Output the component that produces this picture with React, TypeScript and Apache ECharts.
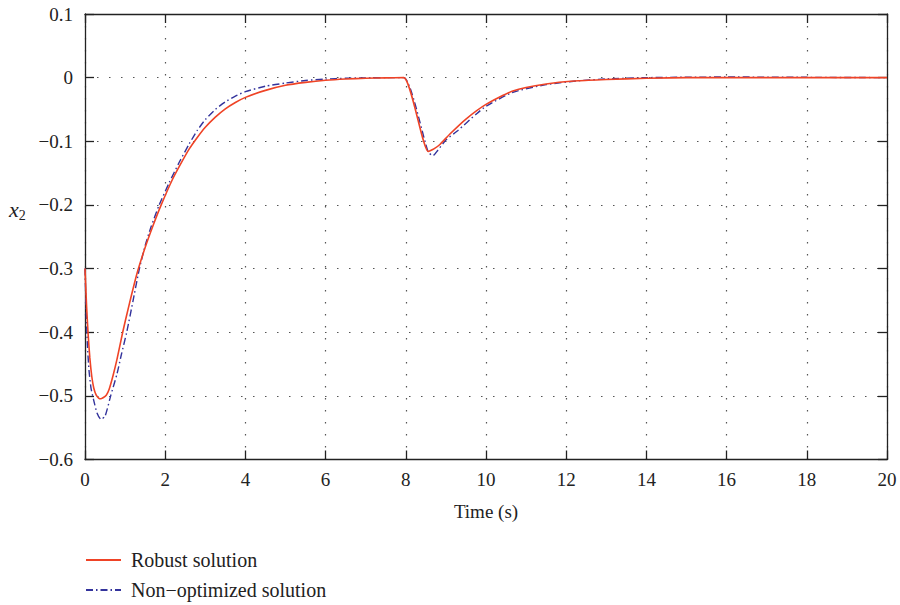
import React, { useEffect, useRef } from "react";
import * as echarts from "echarts";

const robustT = [0, 0.04, 0.08, 0.12, 0.17, 0.22, 0.28, 0.34, 0.39, 0.45, 0.53, 0.6, 0.7, 0.8, 0.94, 1.1, 1.3, 1.5, 1.7, 1.9, 2.18, 2.4, 2.6, 2.8, 3.0, 3.25, 3.5, 3.75, 4.0, 4.5, 5.0, 5.5, 6.0, 6.5, 7.0, 7.5, 7.95, 8.56, 8.62, 8.7, 8.85, 9.1, 9.5, 10.0, 10.67, 11.5, 12.3, 13.0, 14.0, 15.0, 17.0, 20.0];
const robustV = [-0.3, -0.36, -0.405, -0.44, -0.47, -0.488, -0.499, -0.5035, -0.5046, -0.503, -0.499, -0.49, -0.468, -0.442, -0.4, -0.357, -0.307, -0.267, -0.232, -0.2, -0.16, -0.134, -0.112, -0.094, -0.078, -0.062, -0.049, -0.039, -0.031, -0.02, -0.012, -0.0075, -0.0042, -0.0022, -0.001, -0.0003, 0, -0.116, -0.1145, -0.112, -0.105, -0.0885, -0.065, -0.042, -0.021, -0.01, -0.005, -0.003, -0.001, 0, 0, 0];

const nonOptT = [0, 0.03, 0.06, 0.1, 0.15, 0.21, 0.3, 0.4, 0.5, 0.64, 0.8, 0.9, 1.04, 1.2, 1.35, 1.5, 1.65, 1.85, 2.1, 2.35, 2.6, 2.8, 3.0, 3.25, 3.5, 3.75, 4.0, 4.5, 5.0, 5.5, 6.0, 6.5, 7.0, 7.5, 7.95, 8.56, 8.68, 8.8, 9.0, 9.3, 9.76, 10.0, 10.67, 11.5, 12.3, 13.0, 14.0, 16.0, 18.0, 20.0];
const nonOptV = [-0.3, -0.37, -0.42, -0.46, -0.488, -0.505, -0.527, -0.537, -0.532, -0.5, -0.465, -0.437, -0.4, -0.35, -0.302, -0.264, -0.234, -0.2, -0.165, -0.133, -0.104, -0.083, -0.066, -0.05, -0.038, -0.029, -0.022, -0.0135, -0.0085, -0.0045, -0.0022, -0.001, -0.0004, 0, 0, -0.117, -0.1225, -0.114, -0.098, -0.083, -0.057, -0.045, -0.023, -0.011, -0.005, -0.002, 0, 0.001, 0.0005, 0];

const seriesNames = ["Robust solution", "Non\u2212optimized solution"];
const xTicks = { min: 0, max: 20, interval: 2 };
const yTicks = { min: -0.6, max: 0.1, interval: 0.1 };

const FONT = "'Liberation Serif', 'DejaVu Serif', serif";
const AXIS = "#222";
const FS = 19;

export default function App() {
  const ref = useRef<HTMLDivElement>(null);
  useEffect(() => {
    if (!ref.current) return;
    const chart = echarts.init(ref.current, null, { renderer: "svg" });
    const pair = (t: number[], v: number[]) => t.map((x, i) => [x, v[i]]);
    const fmtY = (v: number) => {
      const r = Math.round(v * 10) / 10;
      if (r === 0) return "0";
      return (r < 0 ? "\u2212" : "") + Math.abs(r).toFixed(1);
    };
    const gridLine = { show: true, lineStyle: { color: "#555", type: [1.5, 10.5] as any, width: 1.2 } };
    const baseX = {
      type: "value" as const,
      ...xTicks,
      axisLine: { show: true, onZero: false, lineStyle: { color: AXIS, width: 1.3 } },
      axisTick: { show: true, inside: true, length: 9, lineStyle: { color: AXIS, width: 1.3 } },
    };
    const baseY = {
      type: "value" as const,
      ...yTicks,
      axisLine: { show: true, onZero: false, lineStyle: { color: AXIS, width: 1.3 } },
      axisTick: { show: true, inside: true, length: 9, lineStyle: { color: AXIS, width: 1.3 } },
    };
    chart.setOption({
      animation: false,
      backgroundColor: "#fff",
      textStyle: { fontFamily: FONT },
      grid: { left: 85, right: 13, top: 14, bottom: 145.5, containLabel: false },
      legend: {
        orient: "vertical",
        left: 85,
        top: 550,
        height: 60,
        padding: 0,
        align: "left",
        itemWidth: 35,
        itemHeight: 14,
        itemGap: 10,
        itemStyle: { opacity: 0 },
        textStyle: { fontFamily: FONT, fontSize: 20, color: "#222", padding: [0, 0, 0, 5] },
        data: seriesNames,
      },
      xAxis: [
        {
          ...baseX,
          position: "bottom",
          name: "Time (s)",
          nameLocation: "middle",
          nameGap: 42,
          nameTextStyle: { fontFamily: FONT, fontSize: FS, color: "#222" },
          axisLabel: { fontFamily: FONT, fontSize: FS, color: "#222", margin: 10 },
          splitLine: gridLine,
        },
        { ...baseX, position: "top", axisLabel: { show: false }, splitLine: { show: false } },
      ],
      yAxis: [
        {
          ...baseY,
          position: "left",
          axisLabel: { fontFamily: FONT, fontSize: FS, color: "#222", margin: 12, formatter: fmtY },
          splitLine: gridLine,
        },
        { ...baseY, position: "right", axisLabel: { show: false }, splitLine: { show: false } },
      ],
      graphic: [
        {
          type: "text",
          left: 9,
          top: 198,
          style: {
            text: "{x|x}{s|2}",
            rich: {
              x: { fontFamily: FONT, fontSize: 22, fontStyle: "italic", fill: "#222" },
              s: { fontFamily: FONT, fontSize: 14, fill: "#222", padding: [12, 0, 0, 0] },
            },
          },
        },
      ],
      series: [
        {
          name: seriesNames[0],
          type: "line",
          data: pair(robustT, robustV),
          showSymbol: false,
          symbol: "none",
          smooth: 0.2,
          lineStyle: { color: "#ef4326", width: 1.6 },
          itemStyle: { color: "#ef4326" },
          z: 3,
        },
        {
          name: seriesNames[1],
          type: "line",
          data: pair(nonOptT, nonOptV),
          showSymbol: false,
          symbol: "none",
          smooth: 0.2,
          lineStyle: { color: "#33339c", width: 1.4, type: [7, 3, 1.5, 3] as any },
          itemStyle: { color: "#33339c" },
          z: 2,
        },
      ],
    });
    return () => chart.dispose();
  }, []);
  return <div ref={ref} style={{ width: 900, height: 605, position: "absolute", left: 0, top: 0 }} />;
}
